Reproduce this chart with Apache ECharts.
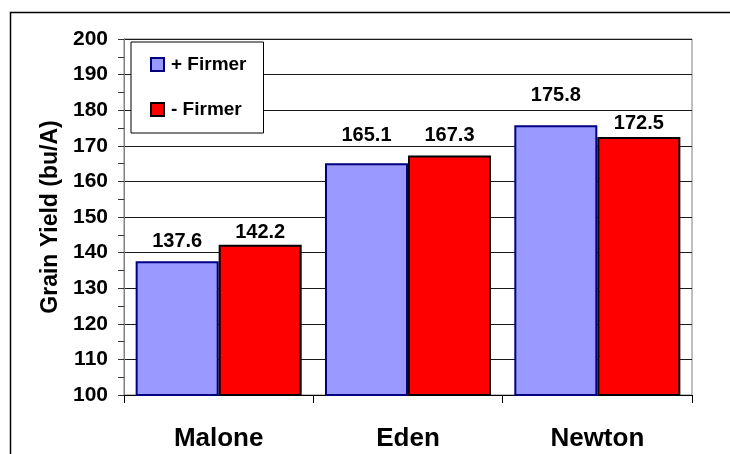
<!DOCTYPE html>
<html>
<head>
<meta charset="utf-8">
<script src="https://cdn.jsdelivr.net/npm/echarts@6/dist/echarts.min.js"></script>
<style>
  html, body { margin: 0; padding: 0; background: #fff; }
  #chart { width: 730px; height: 454px; }
</style>
</head>
<body>
<div id="chart"></div>
<script>
// Grain yield by location, with and without the firmer attachment
const locations = ['Malone', 'Eden', 'Newton'];
const withFirmer = [137.6, 165.1, 175.8];
const withoutFirmer = [142.2, 167.3, 172.5];
const seriesNames = ['+ Firmer', '- Firmer'];
const yMin = 100, yMax = 200, yStep = 10;

// How far each value label sits above its bar (px)
const liftWith = [10, 18, 20];
const liftWithout = [2, 10, 3];

const FONT = '"Liberation Sans", Arial, sans-serif';

function withLabels(values, lifts) {
  return values.map((v, i) => ({ value: v, label: { distance: lifts[i] } }));
}

const chart = echarts.init(document.getElementById('chart'), null, { renderer: 'canvas' });

chart.setOption({
  backgroundColor: '#ffffff',
  animation: false,
  textStyle: { fontFamily: FONT },
  graphic: [{
    type: 'rect',
    shape: { x: 10.5, y: 12.5, width: 740, height: 460 },
    style: { fill: 'none', stroke: '#000', lineWidth: 1.5 },
    silent: true,
    z: 0
  }],
  grid: {
    left: 124, right: 38, top: 39, bottom: 59,
    show: true, borderColor: '#808080', borderWidth: 1, backgroundColor: 'transparent'
  },
  legend: {
    orient: 'vertical',
    left: 131, top: 42,
    padding: [13, 17, 14, 19],
    itemGap: 26,
    itemWidth: 13, itemHeight: 13,
    backgroundColor: '#ffffff',
    borderColor: '#000', borderWidth: 1,
    icon: 'rect',
    textStyle: { fontFamily: FONT, fontWeight: 'bold', fontSize: 19, color: '#000', padding: [0, 0, 0, 2] },
    data: seriesNames
  },
  xAxis: {
    type: 'category',
    data: locations,
    axisLine: { lineStyle: { color: '#000', width: 1 } },
    axisTick: { show: true, length: 8, lineStyle: { color: '#000' } },
    axisLabel: { fontFamily: FONT, fontWeight: 'bold', fontSize: 26, color: '#000', margin: 31 }
  },
  yAxis: {
    type: 'value',
    min: yMin, max: yMax, interval: yStep,
    name: 'Grain Yield (bu/A)',
    nameLocation: 'middle',
    nameRotate: 90,
    nameGap: 62,
    nameTextStyle: { fontFamily: FONT, fontWeight: 'bold', fontSize: 23, color: '#000' },
    axisLine: { show: true, lineStyle: { color: '#808080', width: 1 } },
    axisTick: { show: true, inside: false, length: 6, lineStyle: { color: '#333' } },
    minorTick: { show: true, splitNumber: 2, length: 6, lineStyle: { color: '#333' } },
    splitLine: { show: true, lineStyle: { color: '#1a1a1a', width: 1 } },
    axisLabel: { fontFamily: FONT, fontWeight: 'bold', fontSize: 21, color: '#000', margin: 16, padding: [3, 0, 0, 0] }
  },
  series: [
    {
      name: seriesNames[0],
      type: 'bar',
      data: withLabels(withFirmer, liftWith),
      barGap: '0%',
      barCategoryGap: '12.3%',
      itemStyle: { color: '#9999FF', borderColor: '#000080', borderWidth: 2 },
      label: { show: true, position: 'top', fontFamily: FONT, fontWeight: 'bold', fontSize: 20, color: '#000' },
      z: 3
    },
    {
      name: seriesNames[1],
      type: 'bar',
      data: withLabels(withoutFirmer, liftWithout),
      barGap: '0%',
      barCategoryGap: '12.3%',
      itemStyle: { color: '#FF0000', borderColor: '#000000', borderWidth: 2 },
      label: { show: true, position: 'top', fontFamily: FONT, fontWeight: 'bold', fontSize: 20, color: '#000' },
      z: 3
    }
  ]
});
</script>
</body>
</html>
